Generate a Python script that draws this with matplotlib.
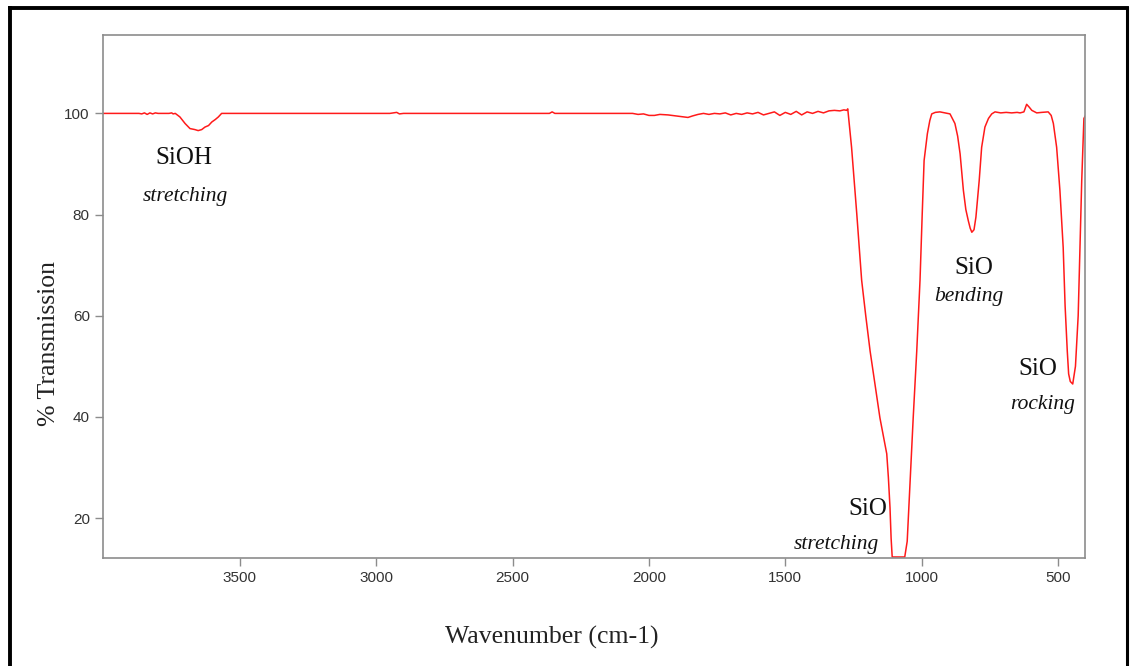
import matplotlib.pyplot as plt
from matplotlib.lines import Line2D

# FTIR spectrum, values
wavenumber = [4002, 3950, 3900, 3870, 3860, 3850, 3840, 3830, 3820, 3810, 3800,
              3780, 3760, 3750, 3745, 3737, 3720, 3701, 3683, 3665, 3653, 3640,
              3628, 3615, 3603, 3590, 3579, 3567, 3500, 3300, 3100, 2950, 2925,
              2915, 2900, 2700, 2500, 2365, 2355, 2345, 2200, 2060, 2040, 2020,
              2000, 1980, 1960, 1930, 1900, 1870, 1857, 1840, 1820, 1800, 1780,
              1760, 1740, 1720, 1700, 1680, 1660, 1640, 1620, 1600, 1580, 1560,
              1540, 1520, 1500, 1480, 1460, 1440, 1420, 1400, 1380, 1360, 1340,
              1320, 1300, 1285, 1275, 1271, 1257, 1238, 1220, 1205, 1189, 1170,
              1153, 1138, 1128, 1122, 1116, 1112, 1108, 1090, 1075, 1062, 1053,
              1043, 1031, 1018, 1006, 998, 991, 979, 970, 963, 950, 933, 915,
              896, 878, 868, 859, 847, 838, 829, 822, 816, 808, 801, 789, 780,
              768, 755, 743, 731, 710, 690, 670, 650, 639, 625, 615, 605, 596,
              578, 560, 536, 525, 517, 505, 493, 481, 474, 466, 461, 455, 446,
              436, 426, 413, 405, 400]
transmission = [100.0, 100.0, 100.0, 100.0, 99.9, 100.1, 99.8, 100.1, 99.9, 100.1, 100.0,
                100.0, 100.0, 100.1, 99.9, 100.0, 99.3, 98.0, 97.0, 96.8, 96.6, 96.8,
                97.3, 97.6, 98.3, 98.8, 99.3, 100.0, 100.0, 100.0, 100.0, 100.0, 100.2,
                99.9, 100.0, 100.0, 100.0, 100.0, 100.3, 100.0, 100.0, 100.0, 99.8, 99.9,
                99.6, 99.6, 99.8, 99.7, 99.5, 99.3, 99.2, 99.5, 99.8, 100.0, 99.8,
                100.0, 99.9, 100.1, 99.7, 100.0, 99.8, 100.1, 99.9, 100.2, 99.7, 100.0,
                100.3, 99.6, 100.2, 99.8, 100.4, 99.7, 100.3, 100.0, 100.4, 100.1, 100.5,
                100.6, 100.5, 100.7, 100.6, 100.9, 93.3, 80.2, 67.0, 60.0, 53.0, 46.0,
                39.8, 35.5, 32.7, 28.0, 22.0, 16.0, 12.3, 12.3, 12.3, 12.3, 15.4,
                26.7, 39.8, 53.0, 67.0, 80.0, 90.7, 96.0, 98.6, 99.9, 100.2, 100.3, 100.1,
                99.9, 98.0, 95.5, 92.0, 84.8, 81.0, 78.8, 77.3, 76.5, 77.0, 79.5, 86.7, 93.3,
                97.3, 99.0, 99.9, 100.3, 100.1, 100.2, 100.1, 100.2, 100.1, 100.3, 101.8, 101.2, 100.6,
                100.1, 100.2, 100.3, 99.6, 98.0, 93.3, 84.8, 73.5, 62.0, 53.0, 48.5, 47.0, 46.5,
                50.0, 60.0, 86.7, 99.0, 99.5]

xticks = [3500, 3000, 2500, 2000, 1500, 1000, 500]
yticks = [20, 40, 60, 80, 100]

annotations = [
    ("SiOH", 184, 158, "normal"),
    ("stretching", 185, 197, "italic"),
    ("SiO", 974, 268, "normal"),
    ("bending", 969, 297, "italic"),
    ("SiO", 1038, 369, "normal"),
    ("rocking", 1043, 405, "italic"),
    ("SiO", 868, 509, "normal"),
    ("stretching", 836, 545, "italic"),
]

W, H = 1133, 666
fig = plt.figure(figsize=(W / 100, H / 100), dpi=100)
ax = fig.add_axes([103 / W, 1 - 558 / H, (1085 - 103) / W, (558 - 35) / H])

ax.plot(wavenumber, transmission, color="#ff1a1a", linewidth=1.1)
ax.set_xlim(4002, 401)
ax.set_ylim(12.1, 115.5)
ax.set_xticks(xticks)
ax.set_yticks(yticks)

for side in ax.spines:
    ax.spines[side].set_color("#8c8c8c")
    ax.spines[side].set_linewidth(1.2)
ax.tick_params(colors="#8c8c8c", labelcolor="#333333", length=6, width=1.0,
               labelsize=11)
for lab in ax.get_xticklabels() + ax.get_yticklabels():
    lab.set_family("Liberation Sans")

serif = "Liberation Serif"
for txt, px, py, style in annotations:
    size = 18 if style == "normal" else 15.5
    fig.text(px / W, 1 - py / H, txt, ha="center", va="center",
             family=serif, style=style, fontsize=size, color="#111111")

fig.text(49 / W, 1 - 343 / H, "% Transmission", rotation=90, ha="center",
         va="center", family=serif, fontsize=18.5, color="#222222")
fig.text(552 / W, 1 - 637 / H, "Wavenumber (cm-1)", ha="center", va="center",
         family=serif, fontsize=18.5, color="#222222")

# black page frame (left, top, right)
fx0, fx1, fy = 10 / W, 1127 / W, 1 - 8 / H
fig.add_artist(Line2D([fx0, fx0], [0, fy], color="black", linewidth=2.8))
fig.add_artist(Line2D([fx0, fx1], [fy, fy], color="black", linewidth=2.8))
fig.add_artist(Line2D([fx1, fx1], [0, fy], color="black", linewidth=2.2))

fig.savefig("out.png", dpi=100)
